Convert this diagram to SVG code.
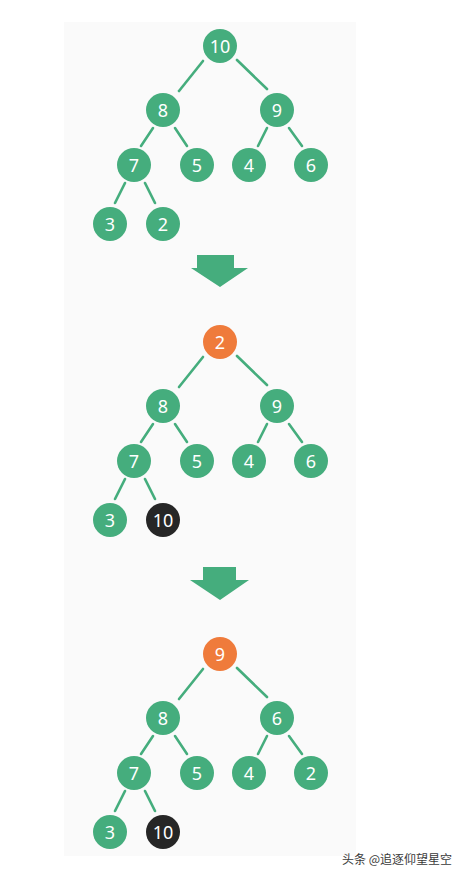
<svg xmlns="http://www.w3.org/2000/svg" width="459" height="871" viewBox="0 0 459 871">
<defs>
<style>
.g{fill:#45ad7d}
.o{fill:#ef7b3b}
.k{fill:#262626}
.t{fill:#ffffff;font-family:"Noto Sans","DejaVu Sans",sans-serif;font-size:18px;text-anchor:middle;dominant-baseline:central}
line{stroke:#45ad7d;stroke-width:2.6;stroke-linecap:round}
.arr{fill:#45ad7d}
.wm{fill:#3a3a3a;font-family:"Noto Sans CJK SC","Noto Sans",sans-serif;font-size:12px}
</style>
</defs>
<rect x="0" y="0" width="459" height="871" fill="#ffffff"/>
<rect x="64" y="22" width="292" height="834" fill="#fafafa"/>

<g id="connectors">
<g id="edges1">
<line x1="203" y1="61" x2="179" y2="91"/>
<line x1="237" y1="60" x2="267" y2="89"/>
<line x1="153" y1="128" x2="141" y2="146"/>
<line x1="175" y1="128" x2="187" y2="146"/>
<line x1="267" y1="128" x2="258" y2="146"/>
<line x1="289" y1="128" x2="302" y2="146"/>
<line x1="125" y1="183" x2="115" y2="203"/>
<line x1="145" y1="183" x2="155" y2="203"/>
</g>
<g id="edges2" transform="translate(0,296)">
<line x1="203" y1="61" x2="179" y2="91"/>
<line x1="237" y1="60" x2="267" y2="89"/>
<line x1="153" y1="128" x2="141" y2="146"/>
<line x1="175" y1="128" x2="187" y2="146"/>
<line x1="267" y1="128" x2="258" y2="146"/>
<line x1="289" y1="128" x2="302" y2="146"/>
<line x1="125" y1="183" x2="115" y2="203"/>
<line x1="145" y1="183" x2="155" y2="203"/>
</g>
<g id="edges3" transform="translate(0,608)">
<line x1="203" y1="61" x2="179" y2="91"/>
<line x1="237" y1="60" x2="267" y2="89"/>
<line x1="153" y1="128" x2="141" y2="146"/>
<line x1="175" y1="128" x2="187" y2="146"/>
<line x1="267" y1="128" x2="258" y2="146"/>
<line x1="289" y1="128" x2="302" y2="146"/>
<line x1="125" y1="183" x2="115" y2="203"/>
<line x1="145" y1="183" x2="155" y2="203"/>
</g>
</g>

<g id="tree1">
<g id="t1-n10"><circle class="g" cx="220" cy="46" r="17"/><text class="t" x="220" y="46">10</text></g>
<g id="t1-n8"><circle class="g" cx="163" cy="110" r="17"/><text class="t" x="163" y="110">8</text></g>
<g id="t1-n9"><circle class="g" cx="277" cy="110" r="17"/><text class="t" x="277" y="110">9</text></g>
<g id="t1-n7"><circle class="g" cx="134" cy="165" r="17"/><text class="t" x="134" y="165">7</text></g>
<g id="t1-n5"><circle class="g" cx="197" cy="165" r="17"/><text class="t" x="197" y="165">5</text></g>
<g id="t1-n4"><circle class="g" cx="249" cy="165" r="17"/><text class="t" x="249" y="165">4</text></g>
<g id="t1-n6"><circle class="g" cx="311" cy="165" r="17"/><text class="t" x="311" y="165">6</text></g>
<g id="t1-n3"><circle class="g" cx="110" cy="224" r="17"/><text class="t" x="110" y="224">3</text></g>
<g id="t1-n2"><circle class="g" cx="163" cy="224" r="17"/><text class="t" x="163" y="224">2</text></g>
</g>

<g id="arrow1"><polygon class="arr" points="197,255 234,255 234,268 248,268 220,287 191,268 197,268"/></g>

<g id="tree2" transform="translate(0,296)">
<g id="t2-n2"><circle class="o" cx="220" cy="46" r="17"/><text class="t" x="220" y="46">2</text></g>
<g id="t2-n8"><circle class="g" cx="163" cy="110" r="17"/><text class="t" x="163" y="110">8</text></g>
<g id="t2-n9"><circle class="g" cx="277" cy="110" r="17"/><text class="t" x="277" y="110">9</text></g>
<g id="t2-n7"><circle class="g" cx="134" cy="165" r="17"/><text class="t" x="134" y="165">7</text></g>
<g id="t2-n5"><circle class="g" cx="197" cy="165" r="17"/><text class="t" x="197" y="165">5</text></g>
<g id="t2-n4"><circle class="g" cx="249" cy="165" r="17"/><text class="t" x="249" y="165">4</text></g>
<g id="t2-n6"><circle class="g" cx="311" cy="165" r="17"/><text class="t" x="311" y="165">6</text></g>
<g id="t2-n3"><circle class="g" cx="110" cy="224" r="17"/><text class="t" x="110" y="224">3</text></g>
<g id="t2-n10"><circle class="k" cx="163" cy="224" r="17"/><text class="t" x="163" y="224">10</text></g>
</g>

<g id="arrow2"><polygon class="arr" points="203,567 236,567 236,580 249,580 220,600 190,580 203,580"/></g>

<g id="tree3" transform="translate(0,608)">
<g id="t3-n9"><circle class="o" cx="220" cy="46" r="17"/><text class="t" x="220" y="46">9</text></g>
<g id="t3-n8"><circle class="g" cx="163" cy="110" r="17"/><text class="t" x="163" y="110">8</text></g>
<g id="t3-n6"><circle class="g" cx="277" cy="110" r="17"/><text class="t" x="277" y="110">6</text></g>
<g id="t3-n7"><circle class="g" cx="134" cy="165" r="17"/><text class="t" x="134" y="165">7</text></g>
<g id="t3-n5"><circle class="g" cx="197" cy="165" r="17"/><text class="t" x="197" y="165">5</text></g>
<g id="t3-n4"><circle class="g" cx="249" cy="165" r="17"/><text class="t" x="249" y="165">4</text></g>
<g id="t3-n2"><circle class="g" cx="311" cy="165" r="17"/><text class="t" x="311" y="165">2</text></g>
<g id="t3-n3"><circle class="g" cx="110" cy="224" r="17"/><text class="t" x="110" y="224">3</text></g>
<g id="t3-n10"><circle class="k" cx="163" cy="224" r="17"/><text class="t" x="163" y="224">10</text></g>
</g>

<text class="wm" x="342" y="864">头条 @追逐仰望星空</text>
</svg>
